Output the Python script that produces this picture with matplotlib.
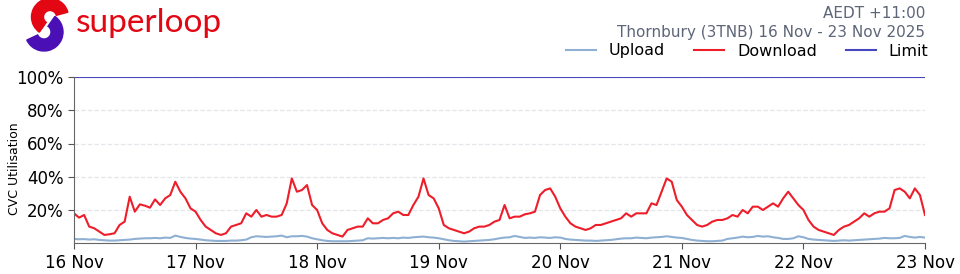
import numpy as np
import pandas as pd
import matplotlib
matplotlib.use('Agg')
import matplotlib.pyplot as plt
import matplotlib.dates as mdates
from matplotlib.patches import Wedge
from matplotlib.ticker import FuncFormatter

# hourly CVC utilisation (%), 16 Nov 00:00 .. 23 Nov 00:00
download = [
    18, 15.4, 17, 10, 9, 7, 5, 5.4, 6, 11, 13, 28, 19, 23.4, 22.6, 21.4, 26.4, 23, 27, 29, 37, 31, 27, 21,
    19, 14, 10, 8, 6, 5, 6, 10, 11, 12, 18, 16, 20, 16, 17, 16, 16, 17, 24, 39, 31, 32, 35, 23,
    20, 12, 8, 6, 5, 4, 8, 9, 10, 10, 15, 12, 12, 14, 15, 18, 19, 17, 17, 23, 28, 39, 29, 27,
    21, 11, 9, 8, 7, 6, 7, 9, 10, 10, 11, 13, 14, 23, 15, 16, 16, 17.4, 18, 19, 29, 32, 33, 28,
    21, 16, 12, 10, 9, 8, 9, 11, 11, 12, 13, 14, 15, 18, 16, 18, 18, 18, 24, 23, 31, 39, 37, 26,
    22, 17, 14, 11, 10, 11, 13, 14, 14, 15, 17, 16, 20, 18, 22, 22, 20, 22, 24, 22, 27, 31, 27, 23,
    20, 14, 10, 8, 7, 6, 5, 8, 10, 11, 13, 15, 18, 16, 18, 19, 19, 21, 32, 33, 31, 27, 33, 29,
    17,
]
upload = [
    2.6, 2.4, 2.5, 2.2, 2.4, 2.0, 1.8, 1.6, 1.6, 1.8, 2.0, 2.2, 2.6, 2.8, 3.0, 3.0, 3.2, 3.0, 3.4, 3.2, 4.6, 3.8, 3.2, 2.8,
    2.6, 2.2, 1.8, 1.6, 1.4, 1.4, 1.4, 1.6, 1.6, 1.8, 2.2, 3.6, 4.2, 4.0, 3.8, 4.0, 4.2, 4.6, 3.6, 4.2, 4.2, 4.4, 4.0, 3.0,
    2.4, 1.8, 1.4, 1.2, 1.2, 1.2, 1.2, 1.4, 1.6, 1.8, 3.0, 2.8, 3.0, 3.2, 3.0, 3.2, 3.0, 3.4, 3.2, 3.6, 3.8, 4.0, 3.6, 3.4,
    3.0, 2.4, 1.8, 1.4, 1.2, 1.0, 1.2, 1.4, 1.6, 1.8, 2.0, 2.4, 3.0, 3.4, 3.6, 4.4, 3.8, 3.2, 3.4, 3.2, 3.6, 3.4, 3.2, 3.6,
    3.4, 2.6, 2.2, 2.0, 1.8, 1.6, 1.6, 1.4, 1.6, 1.8, 2.0, 2.4, 2.8, 3.0, 3.0, 3.4, 3.2, 3.0, 3.4, 3.6, 3.8, 4.2, 3.8, 3.4,
    3.2, 2.6, 2.0, 1.6, 1.4, 1.2, 1.2, 1.4, 1.6, 2.6, 3.0, 3.4, 4.0, 3.6, 3.8, 4.4, 4.0, 4.2, 3.6, 3.2, 2.6, 2.6, 3.0, 4.2,
    3.6, 2.6, 2.2, 2.0, 1.8, 1.6, 1.4, 1.6, 1.8, 1.6, 1.8, 2.0, 2.2, 2.4, 2.6, 2.8, 3.2, 3.0, 3.0, 3.2, 4.4, 3.8, 3.4, 3.8,
    3.4,
]
limit = 100
times = pd.date_range('2025-11-16 00:00', '2025-11-23 00:00', freq='h')
y_ticks = [20, 40, 60, 80, 100]

fig = plt.figure(figsize=[9.6, 2.74], dpi=100)
ax = fig.add_axes([74/960, 1-243.25/274, 851/960, 166.25/274])

l_up, = ax.plot(times, upload, color='#8fb0d3', lw=1.5, label='Upload')
l_dn, = ax.plot(times, download, color='#ee1d2a', lw=1.5, label='Download')
l_lim = ax.axhline(limit, color='#4646be', lw=1.5, label='Limit')

ax.set_xlim(times[0], times[-1])
ax.set_ylim(0, 100)
ax.set_yticks(y_ticks)
ax.yaxis.set_major_formatter(FuncFormatter(lambda v, p: '%d%%' % v))
ax.xaxis.set_major_locator(mdates.DayLocator())
ax.xaxis.set_major_formatter(mdates.DateFormatter('%d %b'))
ax.tick_params(labelsize=12, color='#555555', length=4)
ax.grid(axis='y', linestyle='--', color='#e3e6ea', lw=0.9)
for s in ['top', 'right']:
    ax.spines[s].set_visible(False)
for s in ['left', 'bottom']:
    ax.spines[s].set_color('#666666')
ax.set_ylabel('CVC Utilisation', fontsize=9)
ax.yaxis.set_label_coords(-0.062, 0.45)

# header
fig.text(925/960, 1-14/274, 'AEDT +11:00', ha='right', va='center', fontsize=11, color='#5d6578')
fig.text(925/960, 1-32/274, 'Thornbury (3TNB) 16 Nov - 23 Nov 2025', ha='right', va='center', fontsize=11, color='#5d6578')
fig.legend(handles=[l_up, l_dn, l_lim], loc='center right', bbox_to_anchor=(930/960, 1-51/274),
           ncol=3, frameon=False, fontsize=11.5, handlelength=1.9, columnspacing=1.8,
           handletextpad=0.8, borderpad=0.1, borderaxespad=0.0)

# logo
tr = fig.dpi_scale_trans
fig.patches.append(Wedge((0.50, 2.57), 0.185, 15, 235, width=0.12, color='#e30613', transform=tr, figure=fig))
fig.patches.append(Wedge((0.44, 2.42), 0.19, 205, 55, width=0.12, color='#4a0fb5', transform=tr, figure=fig))
fig.text(76/960, 1-23/274, 'superloop', ha='left', va='center', fontsize=24, color='#e30613', family='Lato')

plt.savefig('out.png', dpi=100)
